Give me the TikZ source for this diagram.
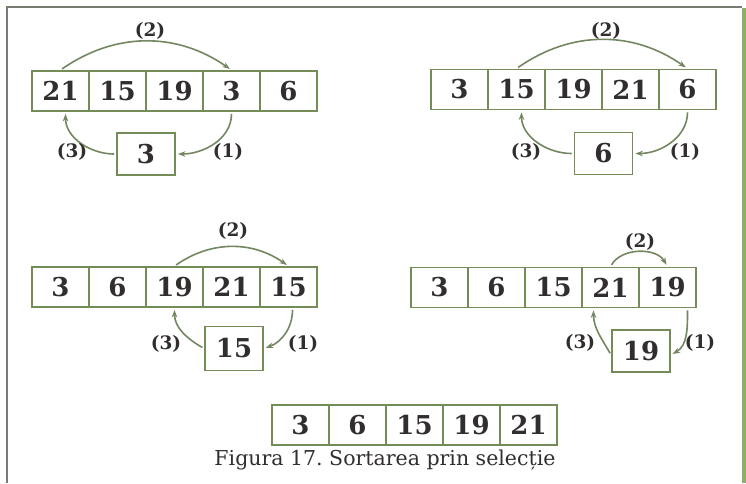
\documentclass[tikz,border=0pt]{standalone}
\usepackage{fontspec}
\setmainfont{DejaVu Serif}
\usetikzlibrary{arrows.meta}
\definecolor{boxc}{RGB}{118,140,88}
\definecolor{arrc}{RGB}{115,135,97}
\definecolor{txtc}{RGB}{50,46,46}
\definecolor{framec}{RGB}{120,125,115}
\definecolor{greenedge}{RGB}{140,175,105}
\frenchspacing
\begin{document}
\begin{tikzpicture}[x=1pt,y=-1pt,
  cell/.style={draw=boxc, line width=1.8pt, minimum width=57pt, minimum height=40pt, inner sep=0pt,
    font=\fontsize{26}{26}\selectfont\bfseries, text=txtc},
  tmpbox/.style={cell, minimum width=58pt, minimum height=42pt},
  arr/.style={draw=arrc, line width=1.6pt, -{Stealth[length=7.5pt,width=5.5pt]}, shorten <=2pt, shorten >=2pt},
  lbl/.style={font=\fontsize{18.5}{18.5}\selectfont\bfseries, text=txtc, inner sep=0pt},
  captext/.style={font=\fontsize{20.5}{20.5}\selectfont, text=txtc, inner sep=0pt}]
\useasboundingbox (0,0) rectangle (746,483);
\fill[white] (0,0) rectangle (746,483);
% frame
\draw[framec, line width=1.2pt] (7,483) -- (7,7) -- (742,7);
\draw[greenedge, line width=4pt] (744,8) -- (744,483);

% block 1
\foreach \v [count=\i] in {21,15,19,3,6}
  \node[cell] (b1c\i) at ({32+57*\i-28.5},91) {\v};
\node[tmpbox] (b1t) at (146,154) {3};
\draw[arr] (b1c1.north) to[bend left=35] (b1c4.north);
\draw[arr] (b1c4.south) to[out=-90,in=0] (b1t.east);
\draw[arr] (b1t.west) to[out=180,in=-90] ([xshift=5pt]b1c1.south);
\node[lbl] (b1l2) at (150,31) {(2)};
\node[lbl] (b1l1) at (228,152) {(1)};
\node[lbl] (b1l3) at (72,152) {(3)};

% block 2
\foreach \v [count=\i] in {3,15,19,21,6}
  \node[cell] (b2c\i) at ({431+57*\i-28.5},89.5) {\v};
\node[tmpbox] (b2t) at (603.5,153.5) {6};
\draw[arr] (b2c2.north) to[bend left=35] (b2c5.north);
\draw[arr] (b2c5.south) to[out=-90,in=0] (b2t.east);
\draw[arr] (b2t.west) to[out=180,in=-90] ([xshift=5pt]b2c2.south);
\node[lbl] (b2l2) at (606,31) {(2)};
\node[lbl] (b2l1) at (685,152) {(1)};
\node[lbl] (b2l3) at (526,152) {(3)};

% block 3
\foreach \v [count=\i] in {3,6,19,21,15}
  \node[cell] (b3c\i) at ({32+57*\i-28.5},287) {\v};
\node[tmpbox, minimum height=44pt] (b3t) at (234,348.5) {15};
\draw[arr] (b3c3.north) to[bend left=35] (b3c5.north);
\draw[arr] ([xshift=4pt]b3c5.south) to[out=-90,in=20] (b3t.east);
\draw[arr] (b3t.west) to[out=150,in=-90] (b3c3.south);
\node[lbl] (b3l2) at (233,231) {(2)};
\node[lbl] (b3l1) at (303,344) {(1)};
\node[lbl] (b3l3) at (166,344) {(3)};

% block 4
\foreach \v [count=\i] in {3,6,15,21,19}
  \node[cell] (b4c\i) at ({411+57*\i-28.5},287.5) {\v};
\node[tmpbox] (b4t) at (641,351) {19};
\draw[arr] (b4c4.north) to[bend left=60] (b4c5.north);
\draw[arr] ([xshift=20pt]b4c5.south) to[out=-90,in=30] ([yshift=-4pt]b4t.east);
\draw[arr] ([yshift=-4pt]b4t.west) to[out=120,in=-90] ([xshift=-17pt]b4c4.south);
\node[lbl] (b4l2) at (640,242) {(2)};
\node[lbl] (b4l1) at (700,343) {(1)};
\node[lbl] (b4l3) at (580,343) {(3)};

% block 5
\foreach \v [count=\i] in {3,6,15,19,21}
  \node[cell] (b5c\i) at ({272+57*\i-28.5},425) {\v};
\node[captext, anchor=base] (caption) at (385,465) {Figura 17. Sortarea prin selecție};
\end{tikzpicture}
\end{document}
